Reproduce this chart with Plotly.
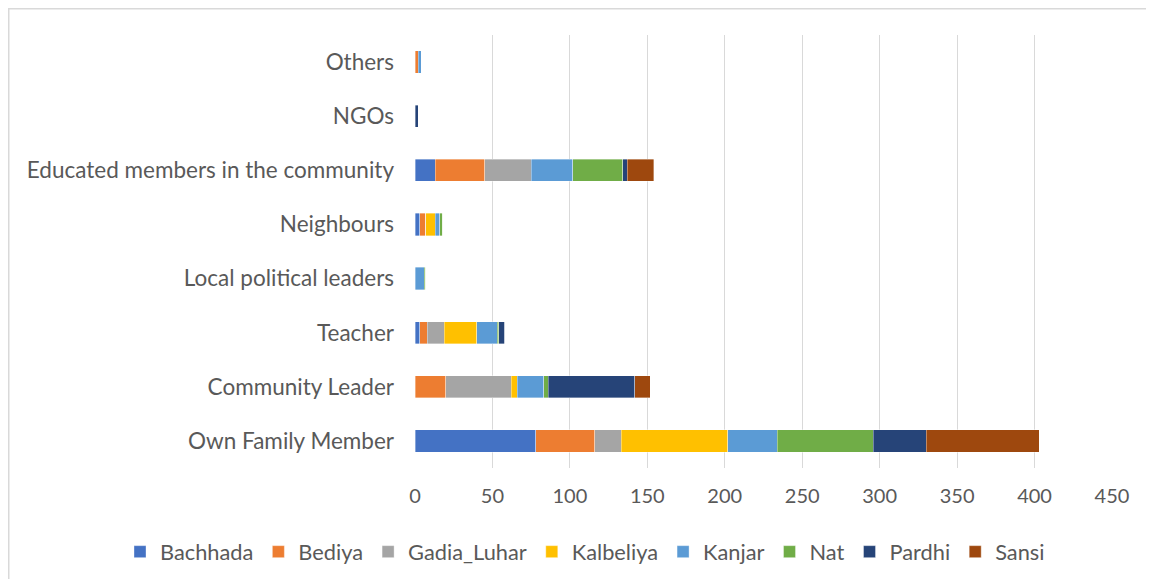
import plotly.graph_objects as go

categories = ["Own Family Member", "Community Leader", "Teacher", "Local political leaders",
              "Neighbours", "Educated members in the community", "NGOs", "Others"]
series_names = ["Bachhada", "Bediya", "Gadia_Luhar", "Kalbeliya", "Kanjar", "Nat", "Pardhi", "Sansi"]
bachhada = [78, 0, 3, 0, 3, 13, 0, 0]
bediya = [38, 20, 5, 0, 4, 32, 0, 2]
gadia_luhar = [17, 42, 11, 0, 0, 30, 0, 0]
kalbeliya = [69, 4, 21, 0, 6, 0, 0, 0]
kanjar = [32, 17, 13, 6, 3, 27, 0, 2]
nat = [62, 3, 1, 1, 2, 32, 0, 0]
pardhi = [34, 56, 4, 0, 0, 3, 2, 0]
sansi = [73, 10, 0, 0, 0, 17, 0, 0]
x_ticks = [0, 50, 100, 150, 200, 250, 300, 350, 400, 450]

series_values = [bachhada, bediya, gadia_luhar, kalbeliya, kanjar, nat, pardhi, sansi]
colors = ["#4472C4", "#ED7D31", "#A5A5A5", "#FFC000", "#5B9BD5", "#70AD47", "#264478", "#9E480E"]

FONT = "Lato"
TXT = "#595959"

fig = go.Figure()
for name, vals, col in zip(series_names, series_values, colors):
    fig.add_trace(go.Bar(
        y=categories, x=vals, name=name, orientation="h",
        marker=dict(color=col, line=dict(color="rgba(255,255,255,0.6)", width=0.6)),
    ))

W, H = 1138, 571
L, R, T, B = 407, 34, 27, 111
pw, ph = W - L - R, H - T - B

fig.update_layout(
    barmode="stack",
    bargap=0.59,
    width=W, height=H,
    margin=dict(l=L, r=R, t=T, b=B, autoexpand=False),
    paper_bgcolor="white", plot_bgcolor="white",
    font=dict(family=FONT, size=20, color=TXT),
    xaxis=dict(range=[0, 450], tickvals=x_ticks, showgrid=True, gridcolor="#D9D9D9",
               gridwidth=1, zeroline=False, showline=False, ticks="", automargin=False,
               tickfont=dict(family=FONT, size=20, color=TXT), ticklabelstandoff=14),
    yaxis=dict(categoryorder="array", categoryarray=categories, showgrid=False,
               zeroline=False, showline=False, ticks="", automargin=False,
               tickfont=dict(family=FONT, size=22.5, color=TXT), ticklabelstandoff=20),
    legend=dict(orientation="h", x=(112 - L) / pw, xanchor="left",
                y=(H - B - 544) / ph, yanchor="middle",
                font=dict(family=FONT, size=21.8, color=TXT), traceorder="normal",
                itemwidth=30),
    shapes=[dict(type="rect", xref="paper", yref="paper",
                 x0=(0.75 - L) / pw, x1=(W + 20 - L) / pw,
                 y0=(H - B - (H + 20)) / ph, y1=(H - B - 0.75) / ph,
                 line=dict(color="#D9D9D9", width=1.5),
                 fillcolor="rgba(0,0,0,0)", layer="below")],
)
fig.update_yaxes(range=[-0.5, 7.5])

fig.write_html("out.html")
